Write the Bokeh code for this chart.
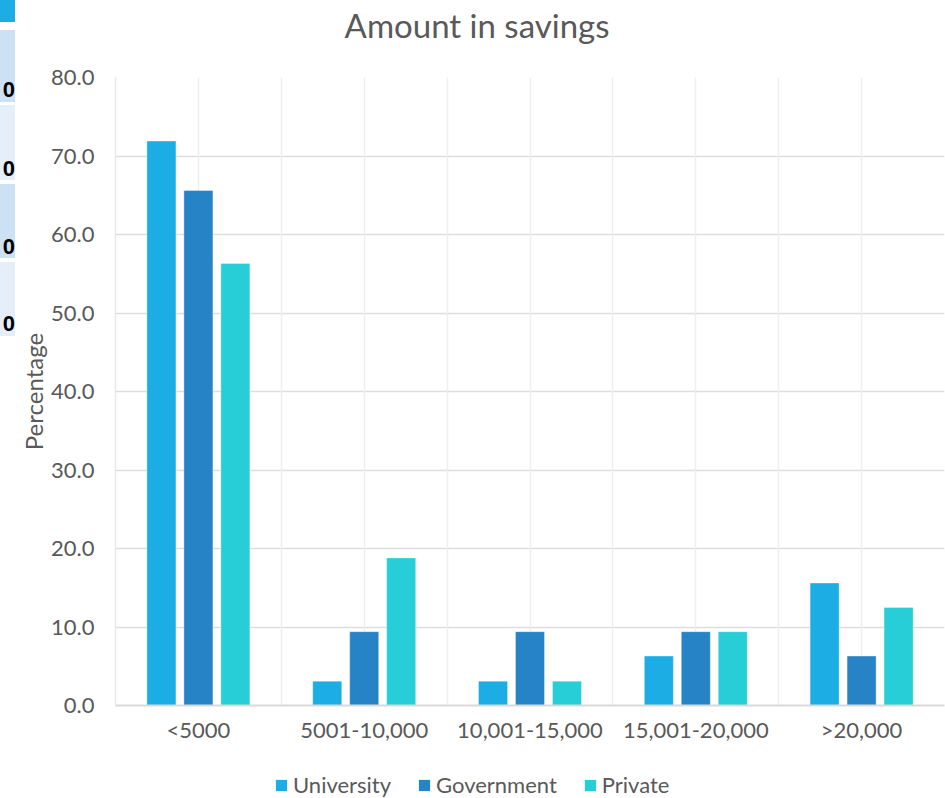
from bokeh.plotting import figure
from bokeh.models import (FactorRange, Range1d, ColumnDataSource, FixedTicker,
                          Grid, Legend, LegendItem, PrintfTickFormatter, Div)
from bokeh.layouts import row, column
from bokeh.transform import dodge
from bokeh.core.properties import value
from bokeh.embed import file_html
from bokeh.resources import INLINE

# Savings brackets and the share of each sector's respondents (%)
brackets = ["<5000", "5001-10,000", "10,001-15,000", "15,001-20,000", ">20,000"]
university = [71.9, 3.1, 3.1, 6.3, 15.6]
government = [65.6, 9.4, 9.4, 9.4, 6.3]
private = [56.3, 18.8, 3.1, 9.4, 12.5]
series_names = ["University", "Government", "Private"]
series_colors = ["#1CADE4", "#2683C6", "#27CED7"]
y_ticks = [0, 10, 20, 30, 40, 50, 60, 70, 80]
chart_title = "Amount in savings"

FONT = "Lato"
TEXT = "#595959"
WIDTH = 929          # chart column width (page is 945 with the cell strip)
LEFT, RIGHT = 98, 1  # borders around the plotting frame
TITLE_H = 63


def blank(fig):
    fig.axis.visible = False
    fig.grid.visible = False
    fig.outline_line_color = None
    fig.background_fill_color = "white"
    fig.border_fill_color = "white"


# Spreadsheet cell fragments along the left edge (page pixels)
cell_top = [0, 30, 105, 184, 262]
cell_bottom = [22, 102, 180, 258, 336]
cell_fill = ["#1CADE4", "#CCE2F4", "#E4EFF9", "#CCE2F4", "#E4EFF9"]
cell_text = ["", "0", "0", "0", "0"]
cell_baseline = [0, 97, 176, 254, 331]

parts = []
for top, bottom, fill, txt, base in zip(cell_top, cell_bottom, cell_fill, cell_text, cell_baseline):
    parts.append(f'<div style="position:absolute;left:0;top:{top}px;width:15px;'
                 f'height:{bottom - top}px;background:{fill};"></div>')
    if txt:
        parts.append(f'<div style="position:absolute;right:1px;top:{base - 18}px;'
                     f'font-family:\'Liberation Sans\';font-weight:bold;font-size:22px;'
                     f'line-height:21px;color:#000;">{txt}</div>')
strip = Div(text='<div style="position:relative;width:16px;height:798px;overflow:hidden;">'
                 + "".join(parts) + "</div>",
            width=16, height=798, styles={"margin": "0", "padding": "0"})

# Title band (x in page pixels, y downward)
title_fig = figure(width=WIDTH, height=TITLE_H, x_range=Range1d(114, 944),
                   y_range=Range1d(TITLE_H, 0), title=None,
                   output_backend="svg", toolbar_location=None,
                   min_border_left=LEFT, min_border_right=RIGHT, min_border_top=0, min_border_bottom=0)
blank(title_fig)
title_fig.text(x=[476], y=[24], text=[chart_title], text_align="center",
               text_baseline="alphabetic", text_font=value(FONT), text_font_size="33px",
               text_color=TEXT)

# Clustered columns
src = ColumnDataSource(dict(bracket=brackets, University=university,
                            Government=government, Private=private))

p = figure(width=WIDTH, height=697, x_range=FactorRange(*brackets, range_padding=0),
           y_range=Range1d(0, 80), title=None, output_backend="svg", toolbar_location=None,
           min_border_left=LEFT, min_border_right=RIGHT, min_border_top=14, min_border_bottom=55)
p.outline_line_color = None
p.background_fill_color = "white"
p.border_fill_color = "white"

offsets = [-0.223, 0.0, 0.223]
for name, color, off in zip(series_names, series_colors, offsets):
    p.vbar(x=dodge("bracket", off, range=p.x_range), top=name, width=0.175,
           bottom=0, source=src, fill_color=color, line_color="white",
           line_alpha=0.35, line_width=1)

# Grid lines: horizontal at every 10, vertical at bracket edges and centres
p.xgrid.visible = False
p.ygrid.ticker = FixedTicker(ticks=y_ticks)
p.ygrid.grid_line_color = "#DDDDDD"
p.ygrid.grid_line_width = 1.5
vgrid = Grid(dimension=0, ticker=FixedTicker(ticks=[i * 0.5 for i in range(11)]),
             grid_line_color="#EFEFEF", grid_line_width=1.5)
p.add_layout(vgrid)
p.renderers.insert(0, p.renderers.pop())

p.yaxis.ticker = FixedTicker(ticks=y_ticks)
p.yaxis.formatter = PrintfTickFormatter(format="%.1f")
p.yaxis.axis_line_color = "#E8E8E8"
p.yaxis.axis_line_width = 1.5
p.yaxis.major_tick_line_color = None
p.yaxis.minor_tick_line_color = None
p.yaxis.major_label_standoff = 15
p.yaxis.major_label_text_font = FONT
p.yaxis.major_label_text_font_size = "22px"
p.yaxis.major_label_text_color = TEXT
p.yaxis.axis_label = "Percentage"
p.yaxis.axis_label_text_font = FONT
p.yaxis.axis_label_text_font_size = "24px"
p.yaxis.axis_label_text_font_style = "normal"
p.yaxis.axis_label_text_color = TEXT
p.yaxis.axis_label_standoff = 0

p.xaxis.axis_line_color = "#D9D9D9"
p.xaxis.axis_line_width = 2
p.xaxis.major_tick_line_color = None
p.xaxis.minor_tick_line_color = None
p.xaxis.major_label_standoff = 4
p.xaxis.major_label_text_font = FONT
p.xaxis.major_label_text_font_size = "22px"
p.xaxis.major_label_text_color = TEXT

# Legend band under the chart; its key swatches sit outside the visible range
leg_fig = figure(width=WIDTH, height=38, x_range=Range1d(0, 1), y_range=Range1d(0, 1),
                 title=None, output_backend="svg", toolbar_location=None,
                 min_border_left=LEFT, min_border_right=RIGHT, min_border_top=0, min_border_bottom=0)
blank(leg_fig)
keys = ColumnDataSource(dict(l=[2], r=[3], t=[3], b=[2]))
key_renderers = [leg_fig.quad(left="l", right="r", top="t", bottom="b", source=keys,
                              fill_color=c, line_color=None) for c in series_colors]

legend = Legend(items=[LegendItem(label=n, renderers=[r]) for n, r in zip(series_names, key_renderers)],
                orientation="horizontal", location=(159, 0), border_line_color=None,
                background_fill_alpha=0, glyph_width=14, glyph_height=14,
                label_standoff=5, spacing=26, label_text_font=FONT,
                label_text_font_size="22px", label_text_color=TEXT, margin=0, padding=2)
leg_fig.add_layout(legend, "center")

layout = row(strip, column(title_fig, p, leg_fig, spacing=0), spacing=0)
open("out.html", "w").write(file_html(layout, INLINE))
